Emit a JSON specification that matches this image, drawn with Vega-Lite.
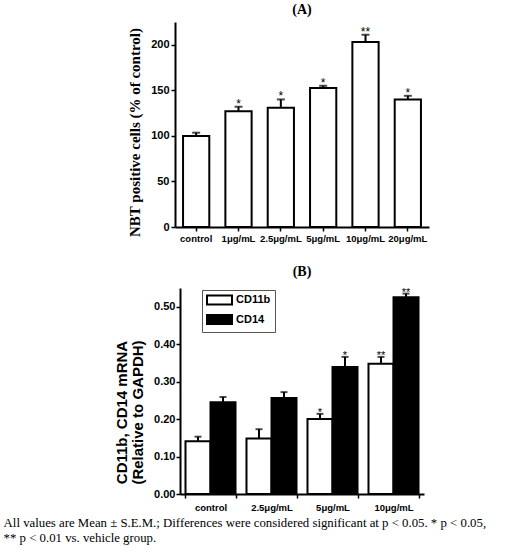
{
  "$schema": "https://vega.github.io/schema/vega-lite/v6.json",
  "background": "white",
  "padding": {"left": 3, "top": 3, "right": 0, "bottom": 5},
  "title": {
    "text": ["All values are Mean ± S.E.M.; Differences were considered significant at p < 0.05. * p < 0.05,", "** p < 0.01 vs. vehicle group."],
    "orient": "bottom",
    "anchor": "start",
    "frame": "bounds",
    "dx": -111,
    "offset": 5,
    "font": "Liberation Serif",
    "fontSize": 12.8,
    "fontWeight": "normal",
    "lineHeight": 15,
    "color": "black"
  },
  "datasets": {
    "nbt": [
      {"dose": "control", "value": 100, "upper": 103.5, "sig": ""},
      {"dose": "1μg/mL", "value": 127, "upper": 132, "sig": "*"},
      {"dose": "2.5μg/mL", "value": 131, "upper": 140, "sig": "*"},
      {"dose": "5μg/mL", "value": 152.5, "upper": 155, "sig": "*"},
      {"dose": "10μg/mL", "value": 203, "upper": 211, "sig": "**"},
      {"dose": "20μg/mL", "value": 140, "upper": 144, "sig": "*"}
    ],
    "mrna": [
      {"dose": "control", "gene": "CD11b", "value": 0.141, "upper": 0.153, "sig": ""},
      {"dose": "control", "gene": "CD14", "value": 0.245, "upper": 0.259, "sig": ""},
      {"dose": "2.5μg/mL", "gene": "CD11b", "value": 0.148, "upper": 0.173, "sig": ""},
      {"dose": "2.5μg/mL", "gene": "CD14", "value": 0.256, "upper": 0.272, "sig": ""},
      {"dose": "5μg/mL", "gene": "CD11b", "value": 0.2, "upper": 0.214, "sig": "*"},
      {"dose": "5μg/mL", "gene": "CD14", "value": 0.339, "upper": 0.366, "sig": "*"},
      {"dose": "10μg/mL", "gene": "CD11b", "value": 0.348, "upper": 0.366, "sig": "**"},
      {"dose": "10μg/mL", "gene": "CD14", "value": 0.525, "upper": 0.535, "sig": "**"}
    ]
  },
  "spacing": 21,
  "center": true,
  "resolve": {"legend": {"fill": "independent"}},
  "vconcat": [
    {
      "title": {"text": "(A)", "font": "Liberation Serif", "fontSize": 14, "fontWeight": "bold", "offset": 5},
      "width": 254,
      "height": 205,
      "data": {"name": "nbt"},
      "encoding": {
        "x": {
          "field": "dose",
          "type": "nominal",
          "sort": null,
          "title": null,
          "scale": {"paddingInner": 0.38, "paddingOuter": 0.19},
          "axis": {"labelAngle": 0, "tickSize": 4, "labelPadding": 2, "labelFontSize": 9.5}
        }
      },
      "layer": [
        {
          "mark": {"type": "bar", "fill": "white", "stroke": "black", "strokeWidth": 2},
          "encoding": {
            "y": {
              "field": "value",
              "type": "quantitative",
              "title": "NBT positive cells (% of control)",
              "scale": {"domain": [0, 225], "nice": false},
              "axis": {
                "values": [0, 25, 50, 75, 100, 125, 150, 175, 200, 225],
                "labelExpr": "datum.value % 50 === 0 ? datum.label : ''",
                "tickSize": {"condition": {"test": "datum.value % 50 === 0", "value": 4}, "value": 2},
                "labelPadding": 2,
                "titleFont": "Liberation Serif",
                "titleFontSize": 15,
                "titleX": -33,
                "titleY": 110
              }
            }
          }
        },
        {
          "mark": {"type": "rule", "color": "black", "strokeWidth": 2},
          "encoding": {
            "y": {"field": "value", "type": "quantitative"},
            "y2": {"field": "upper"}
          }
        },
        {
          "mark": {"type": "tick", "color": "black", "thickness": 2, "size": 8},
          "encoding": {"y": {"field": "upper", "type": "quantitative"}}
        },
        {
          "mark": {"type": "text", "baseline": "bottom", "dy": 4, "font": "Liberation Sans", "fontSize": 12, "color": "black"},
          "encoding": {
            "y": {"field": "upper", "type": "quantitative"},
            "text": {"field": "sig"}
          }
        }
      ]
    },
    {
      "title": {"text": "(B)", "font": "Liberation Serif", "fontSize": 14, "fontWeight": "bold", "offset": 8},
      "width": 244,
      "height": 206,
      "data": {"name": "mrna"},
      "encoding": {
        "x": {
          "field": "dose",
          "type": "nominal",
          "sort": null,
          "title": null,
          "scale": {"paddingInner": 0.18, "paddingOuter": 0.09},
          "axis": {"labelAngle": 0, "tickSize": 4, "tickBand": "extent", "labelPadding": 4, "labelFontSize": 9.5}
        },
        "xOffset": {"field": "gene", "type": "nominal", "scale": {"paddingInner": 0, "paddingOuter": 0}}
      },
      "layer": [
        {
          "mark": {"type": "bar", "stroke": "black", "strokeWidth": 2},
          "encoding": {
            "y": {
              "field": "value",
              "type": "quantitative",
              "title": ["CD11b, CD14 mRNA", "(Relative to GAPDH)"],
              "scale": {"domain": [0, 0.55], "nice": false},
              "axis": {
                "values": [0, 0.025, 0.05, 0.075, 0.1, 0.125, 0.15, 0.175, 0.2, 0.225, 0.25, 0.275, 0.3, 0.325, 0.35, 0.375, 0.4, 0.425, 0.45, 0.475, 0.5, 0.525, 0.55],
                "format": ".2f",
                "labelExpr": "round(datum.value * 1000) % 50 === 0 ? datum.label : ''",
                "tickSize": {"condition": {"test": "round(datum.value * 1000) % 50 === 0", "value": 4}, "value": 2},
                "labelPadding": 1,
                "titleFont": "Liberation Sans",
                "titleFontSize": 15,
                "titleLineHeight": 16,
                "titlePadding": 8,
                "titleY": 124
              }
            },
            "fill": {
              "field": "gene",
              "type": "nominal",
              "scale": {"domain": ["CD11b", "CD14"], "range": ["white", "black"]},
              "legend": {
                "title": null,
                "orient": "none",
                "legendX": 22,
                "legendY": 2,
                "strokeColor": "#555555",
                "padding": 4,
                "symbolType": "M-2.5,-0.9H2.5V0.9H-2.5Z",
                "symbolSize": 100,
                "symbolOffset": 7.5,
                "symbolStrokeColor": "black",
                "symbolStrokeWidth": 2,
                "labelOffset": 10.5,
                "labelFont": "Liberation Sans",
                "labelFontSize": 11,
                "labelFontWeight": "bold",
                "rowPadding": 1.5
              }
            }
          }
        },
        {
          "mark": {"type": "rule", "color": "black", "strokeWidth": 2},
          "encoding": {
            "y": {"field": "value", "type": "quantitative"},
            "y2": {"field": "upper"}
          }
        },
        {
          "mark": {"type": "tick", "color": "black", "thickness": 2, "size": 7},
          "encoding": {"y": {"field": "upper", "type": "quantitative"}}
        },
        {
          "mark": {"type": "text", "baseline": "bottom", "dy": 4, "font": "Liberation Sans", "fontSize": 11, "color": "black"},
          "encoding": {
            "y": {"field": "upper", "type": "quantitative"},
            "text": {"field": "sig"}
          }
        }
      ]
    }
  ],
  "config": {
    "view": {"stroke": null},
    "axis": {
      "grid": false,
      "domainColor": "black",
      "domainWidth": 2,
      "tickColor": "black",
      "tickWidth": 1.5,
      "labelColor": "black",
      "labelFont": "Liberation Sans",
      "labelFontSize": 11,
      "labelFontWeight": "bold",
      "titleColor": "black",
      "titleFontWeight": "bold"
    },
    "title": {"color": "black"}
  }
}
